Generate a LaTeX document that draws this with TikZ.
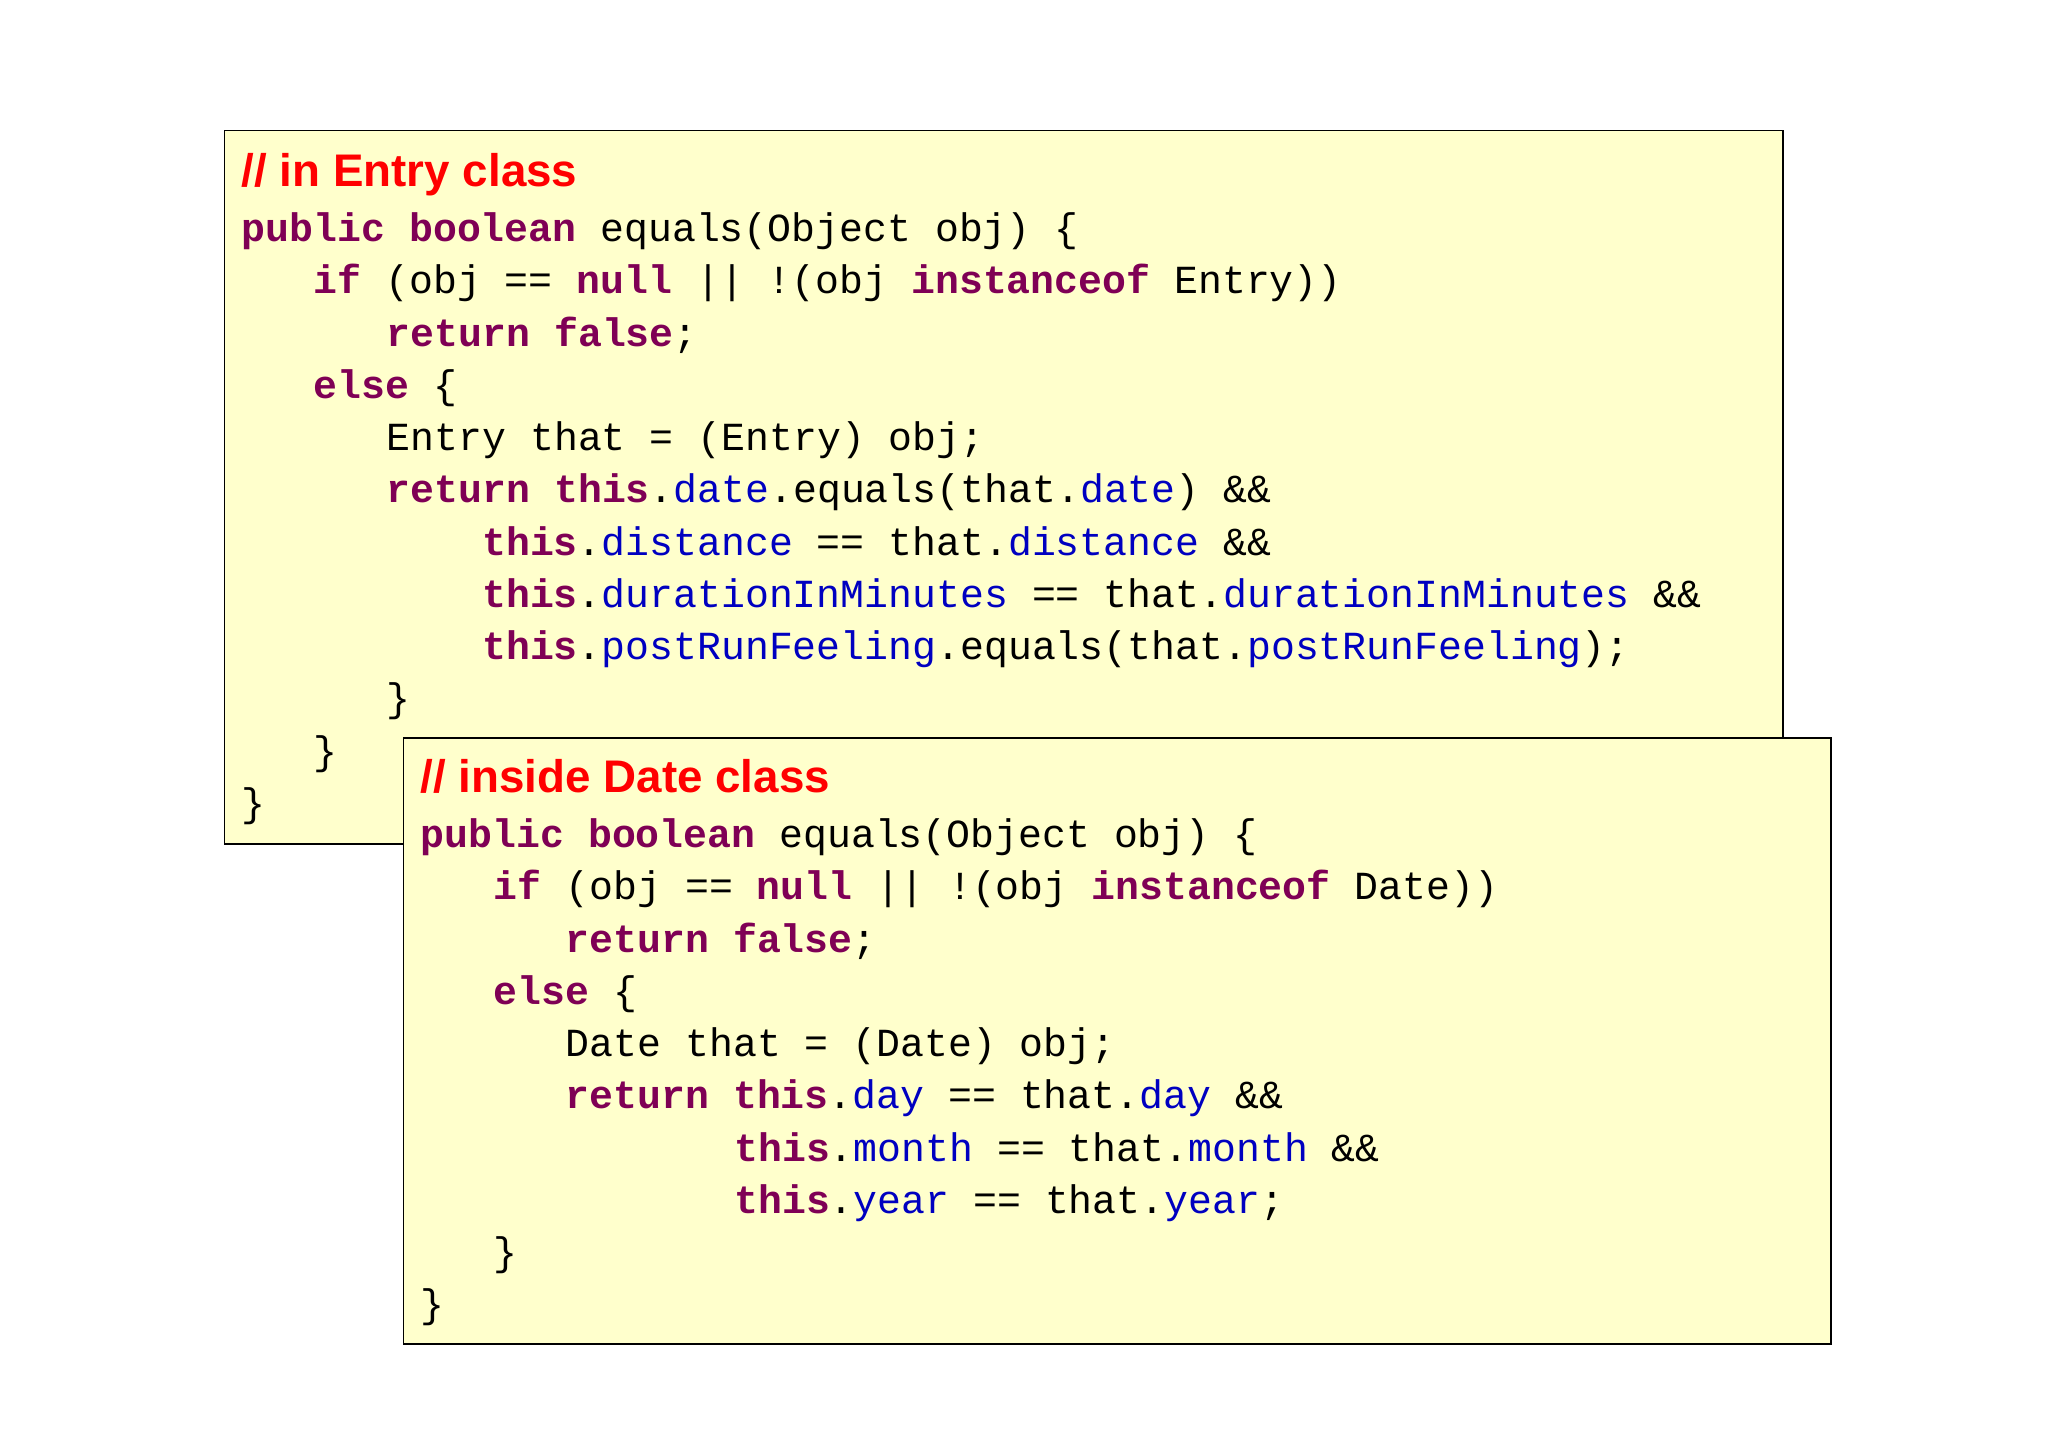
\documentclass[tikz,border=0pt]{standalone}
\usepackage{fontspec}
\newfontfamily\codefont{Liberation Mono}
\newfontfamily\titlefont{Liberation Sans}
\definecolor{kwc}{HTML}{7F0055}
\definecolor{fdc}{HTML}{0000C0}
\definecolor{boxc}{HTML}{FFFFCC}
\definecolor{ttl}{HTML}{FF0000}
\newcommand\kw[1]{\textcolor{kwc}{\bfseries #1}}
\newcommand\fd[1]{\textcolor{fdc}{#1}}
\begin{document}
\begin{tikzpicture}[x=1pt,y=-1pt,
  cl/.style={anchor=base west,inner sep=0pt,font=\codefont\fontsize{30.5}{36}\selectfont},
  tl/.style={anchor=base west,inner sep=0pt,text=ttl,font=\titlefont\bfseries\fontsize{35}{40}\selectfont},
  codebox/.style={draw=black,line width=1.2pt,fill=boxc}]
\useasboundingbox (0,0) rectangle (1568,1108);
\draw[codebox] (172,100) rectangle (1365,646);
\node[tl] (t1) at (185,143) {// in Entry class};
\node[cl] (a1) at (185,185) {\kw{public} \kw{boolean} equals(Object obj) \{};
\node[cl] (a2) at (240,225) {\kw{if} (obj == \kw{null} || !(obj \kw{instanceof} Entry))};
\node[cl] (a3) at (296,265) {\kw{return} \kw{false};};
\node[cl] (a4) at (240,305) {\kw{else} \{};
\node[cl] (a5) at (296,345) {Entry that = (Entry) obj;};
\node[cl] (a6) at (296,385) {\kw{return} \kw{this}.\fd{date}.equals(that.\fd{date}) \&\&};
\node[cl] (a7) at (369,425) {\kw{this}.\fd{distance} == that.\fd{distance} \&\&};
\node[cl] (a8) at (369,465) {\kw{this}.\fd{durationInMinutes} == that.\fd{durationInMinutes} \&\&};
\node[cl] (a9) at (369,505) {\kw{this}.\fd{postRunFeeling}.equals(that.\fd{postRunFeeling});};
\node[cl] (a10) at (296,545) {\}};
\node[cl] (a11) at (240,585) {\}};
\node[cl] (a12) at (185,625) {\}};
\draw[codebox] (309,565) rectangle (1402,1029);
\node[tl] (t2) at (322,607) {// inside Date class};
\node[cl] (b1) at (322,649) {\kw{public} \kw{boolean} equals(Object obj) \{};
\node[cl] (b2) at (378,689) {\kw{if} (obj == \kw{null} || !(obj \kw{instanceof} Date))};
\node[cl] (b3) at (433,729) {\kw{return} \kw{false};};
\node[cl] (b4) at (378,769) {\kw{else} \{};
\node[cl] (b5) at (433,809) {Date that = (Date) obj;};
\node[cl] (b6) at (433,849) {\kw{return} \kw{this}.\fd{day} == that.\fd{day} \&\&};
\node[cl] (b7) at (562,889) {\kw{this}.\fd{month} == that.\fd{month} \&\&};
\node[cl] (b8) at (562,929) {\kw{this}.\fd{year} == that.\fd{year};};
\node[cl] (b9) at (378,969) {\}};
\node[cl] (b10) at (322,1009) {\}};
\end{tikzpicture}
\end{document}
